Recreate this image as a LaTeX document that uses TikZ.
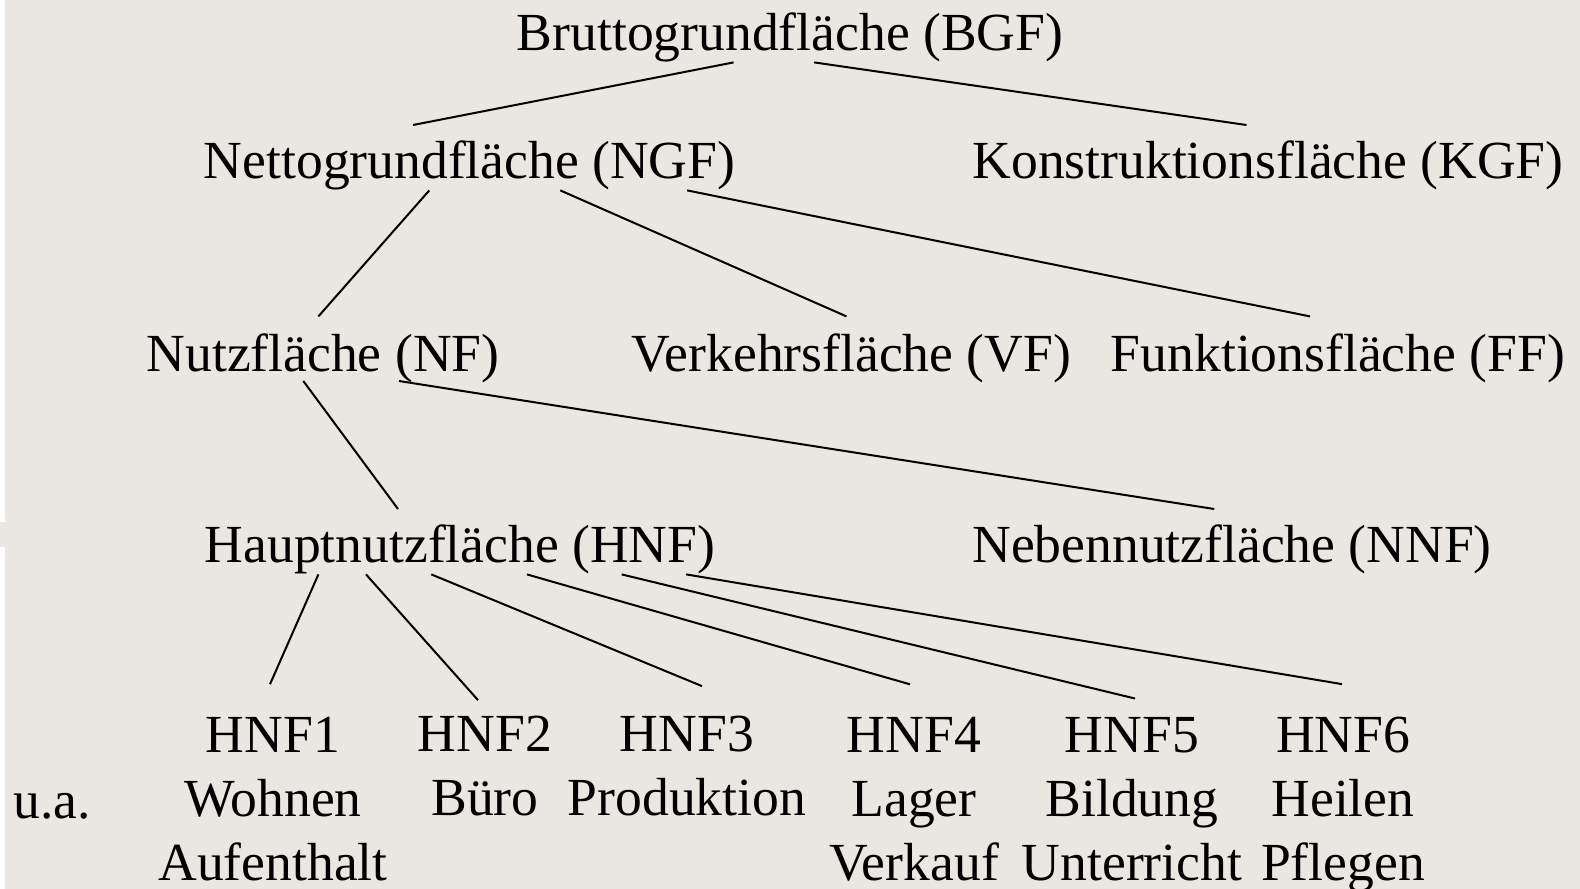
\documentclass[tikz,border=0pt]{standalone}
\usepackage{fontspec}
\setmainfont{Liberation Serif}
\usepackage{tikz}
\definecolor{paper}{RGB}{234,230,226}

\begin{document}
\begin{tikzpicture}[x=0.5pt,y=-0.5pt,
  every node/.style={anchor=base,inner sep=0pt,font=\fontsize{26.8}{32}\selectfont},
  col/.style={align=center}]
\fill[white] (0,0) rectangle (1580,889);
\fill[paper] (5,0) rectangle (1580,889);
\fill[paper] (0,522) rectangle (5,547);
\useasboundingbox (0,0) rectangle (1580,889);
% levels
\node (bgf) at (790,50.4) {Bruttogrundfläche (BGF)};
\node (ngf) at (469.6,178.4) {Nettogrundfläche (NGF)};
\node (kgf) at (1268,178.4) {Konstruktionsfläche (KGF)};
\node (nf) at (323,371) {Nutzfläche (NF)};
\node (vf) at (851.5,371) {Verkehrsfläche (VF)};
\node (ff) at (1338,371) {Funktionsfläche (FF)};
\node (hnf) at (460,562) {Hauptnutzfläche (HNF)};
\node (nnf) at (1232,562) {Nebennutzfläche (NNF)};
% HNF types (base = last line)
\node (ua) at (52.4,818) {u.a.};
\node[col] (hnf1) at (273,880) {HNF1\\Wohnen\\Aufenthalt};
\node[col] (hnf2) at (485,815) {HNF2\\Büro};
\node[col] (hnf3) at (687,815) {HNF3\\Produktion};
\node[col] (hnf4) at (914,880) {HNF4\\Lager\\Verkauf};
\node[col] (hnf5) at (1132,880) {HNF5\\Bildung\\Unterricht};
\node[col] (hnf6) at (1343,880) {HNF6\\Heilen\\Pflegen};
% connectors
\begin{scope}[line width=1pt]
\draw ([shift={(-56.4,12)}]bgf.base) -- ([shift={(-56.6,-53.4)}]ngf.base);
\draw ([shift={(24.2,12)}]bgf.base) -- ([shift={(-21.5,-53.4)}]kgf.base);
\draw ([shift={(-40.3,12)}]ngf.base) -- ([shift={(-4.6,-54.6)}]nf.base);
\draw ([shift={(90.7,12)}]ngf.base) -- ([shift={(-5,-54.6)}]vf.base);
\draw ([shift={(217.6,12)}]ngf.base) -- ([shift={(-28,-54.6)}]ff.base);
\draw ([shift={(-19.7,10)}]nf.base) -- ([shift={(-62,-53)}]hnf.base);
\draw ([shift={(76,10)}]nf.base) -- ([shift={(-17.8,-53)}]nnf.base);
\draw ([shift={(-141.6,12.4)}]hnf.base) -- ([shift={(-3,-32)}]hnf1.north);
\draw ([shift={(-94,12.4)}]hnf.base) -- ([shift={(-7,-15)}]hnf2.north);
\draw ([shift={(-28.7,12.4)}]hnf.base) -- ([shift={(15,-29)}]hnf3.north);
\draw ([shift={(67,12.4)}]hnf.base) -- ([shift={(-4,-32)}]hnf4.north);
\draw ([shift={(161.7,12.4)}]hnf.base) -- ([shift={(3,-18)}]hnf5.north);
\draw ([shift={(226.2,12.4)}]hnf.base) -- ([shift={(-1,-32)}]hnf6.north);
\end{scope}
\end{tikzpicture}
\end{document}
